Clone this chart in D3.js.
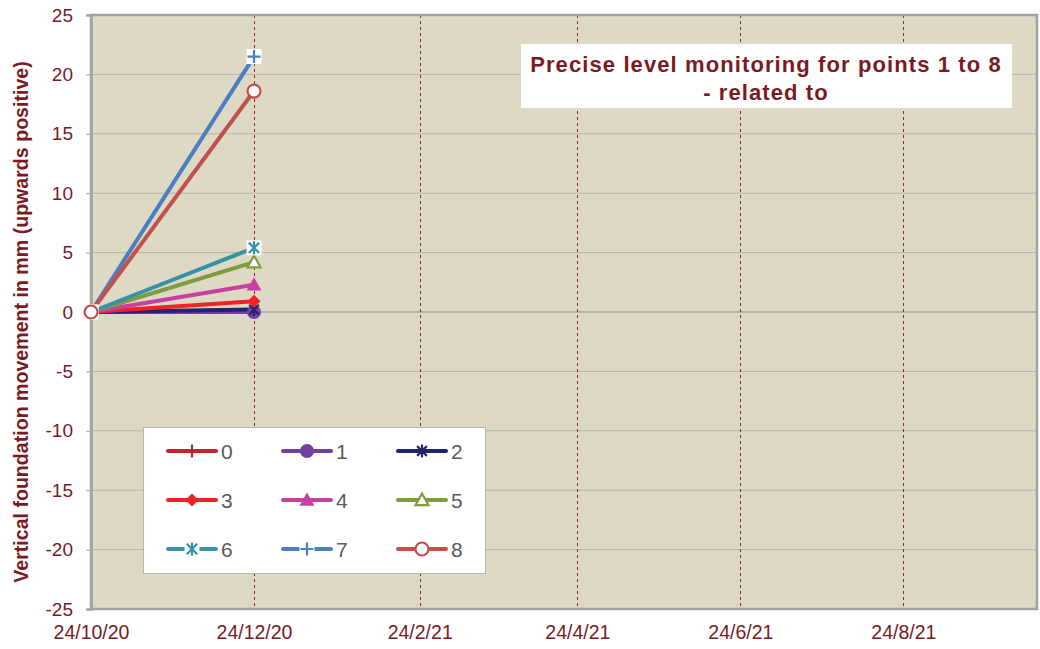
<!DOCTYPE html>
<html>
<head>
<meta charset="utf-8" />
<title>Precise level monitoring</title>
<script src="https://d3js.org/d3.v7.min.js"></script>
<style>
  body { margin: 0; background: #fff; }
  .tick text { font-family: "Liberation Sans", Arial, sans-serif; }
</style>
</head>
<body>
<svg id="chart" width="1040" height="649"></svg>
<script>
// data
var dates = ["2020-10-24", "2020-12-24"];
var seriesNames = ["0", "1", "2", "3", "4", "5", "6", "7", "8"];
var seriesValues = [
    [0, 0],
    [0, 0],
    [0, 0.2],
    [0, 0.9],
    [0, 2.3],
    [0, 4.2],
    [0, 5.4],
    [0, 21.5],
    [0, 18.6]
];
var xTickLabels = ["24/10/20", "24/12/20", "24/2/21", "24/4/21", "24/6/21", "24/8/21"];
var yTicks = [-25, -20, -15, -10, -5, 0, 5, 10, 15, 20, 25];

// look
var colors = ["#c3232b", "#7140a0", "#23236e", "#ef2323", "#c641a2", "#7f9c3f", "#3592aa", "#4b7fc2", "#c2504d"];
var markers = ["plus", "circle", "star", "diamond", "triangle", "triangleOpen", "asterisk", "plusBox", "circleOpen"];
var darkRed = "#7b1a1f";

var svg = d3.select("#chart"),
    margin = { top: 15, right: 3, bottom: 40, left: 91 },
    width = 1037 - margin.left,
    height = 609 - margin.top;

var parse = d3.timeParse("%Y-%m-%d");
var tickParse = d3.timeParse("%d/%m/%y");

var x = d3.scaleTime()
    .domain([parse("2020-10-24"), parse("2021-10-13")])
    .range([0, width]);
var y = d3.scaleLinear().domain([-25, 25]).range([height, 0]);

var g = svg.append("g").attr("transform", "translate(" + margin.left + "," + margin.top + ")");

// plot background
g.append("rect").attr("width", width).attr("height", height).attr("fill", "#ded9c4");

// horizontal grid
g.append("g").selectAll("line").data(yTicks).join("line")
    .attr("x1", 0).attr("x2", width)
    .attr("y1", function (d) { return y(d); }).attr("y2", function (d) { return y(d); })
    .attr("stroke", function (d) { return d === 0 ? "#8c8c8c" : "#b8b5a8"; })
    .attr("stroke-width", 1);

var xTickDates = xTickLabels.map(function (s) { return tickParse(s); });

// vertical dashed grid
g.append("g").selectAll("line").data(xTickDates.slice(1)).join("line")
    .attr("x1", function (d) { return Math.round(x(d)) + 0.5; }).attr("x2", function (d) { return Math.round(x(d)) + 0.5; })
    .attr("y1", 0).attr("y2", height)
    .attr("stroke", "#8a2a2a").attr("stroke-width", 1).attr("stroke-dasharray", "3,3");

// frame
g.append("rect").attr("x", 0).attr("y", 0).attr("width", width).attr("height", height)
    .attr("fill", "none").attr("stroke", "#a3a3a3").attr("stroke-width", 2.5);

// y axis
var yAxis = g.append("g")
    .call(d3.axisLeft(y).tickValues(yTicks).tickSize(5).tickPadding(13)
        .tickFormat(function (d) { return String(d); }));
yAxis.select(".domain").attr("stroke", "#a3a3a3").attr("stroke-width", 2.5);
yAxis.selectAll(".tick line").attr("stroke", "#a3a3a3");
yAxis.selectAll(".tick text").attr("fill", darkRed).attr("font-size", 19);

// x axis
var xAxis = g.append("g").attr("transform", "translate(0," + height + ")")
    .call(d3.axisBottom(x).tickValues(xTickDates).tickSize(0).tickPadding(16)
        .tickFormat(function (d, i) { return xTickLabels[i]; }));
xAxis.select(".domain").remove();
xAxis.selectAll(".tick text").attr("fill", darkRed).attr("font-size", 19.5);

// y axis title
svg.append("text")
    .attr("transform", "translate(28," + 322 + ") rotate(-90)")
    .attr("text-anchor", "middle")
    .attr("font-family", "Liberation Sans, Arial, sans-serif")
    .attr("font-weight", "bold").attr("font-size", 19.6)
    .attr("fill", darkRed)
    .text("Vertical foundation movement in mm (upwards positive)");

// marker drawing
function drawMarker(sel, type, color, size) {
    var s = size;
    if (type === "plus" || type === "plusBox" || type === "asterisk") {
        if (type !== "plus") {
            sel.append("rect").attr("x", -s - 1).attr("y", -s - 1).attr("width", 2 * s + 2).attr("height", 2 * s + 2).attr("fill", "#fff");
        }
        sel.append("path")
            .attr("d", "M" + (-s) + ",0H" + s + "M0," + (-s) + "V" + s)
            .attr("stroke", color).attr("stroke-width", 2.2).attr("fill", "none");
        if (type === "asterisk") {
            var k = s * 0.8;
            sel.append("path")
                .attr("d", "M" + (-k) + "," + (-k) + "L" + k + "," + k + "M" + (-k) + "," + k + "L" + k + "," + (-k))
                .attr("stroke", color).attr("stroke-width", 2.2).attr("fill", "none");
            sel.select("path").attr("d", "M0," + (-s) + "V" + s);
        }
    } else if (type === "star") {
        var k2 = s * 0.75;
        sel.append("path")
            .attr("d", "M0," + (-s) + "V" + s + "M" + (-k2) + "," + (-k2) + "L" + k2 + "," + k2 + "M" + (-k2) + "," + k2 + "L" + k2 + "," + (-k2))
            .attr("stroke", color).attr("stroke-width", 2.2).attr("fill", "none");
    } else if (type === "circle") {
        sel.append("circle").attr("r", s + 0.5).attr("fill", color);
    } else if (type === "circleOpen") {
        sel.append("circle").attr("r", s).attr("fill", "#fff").attr("stroke", color).attr("stroke-width", 2.2);
    } else if (type === "diamond") {
        sel.append("path").attr("d", "M0," + (-s) + "L" + s + ",0L0," + s + "L" + (-s) + ",0Z").attr("fill", color);
    } else if (type === "triangle") {
        sel.append("path").attr("d", "M0," + (-s - 1) + "L" + (s + 1) + "," + s * 0.9 + "L" + (-s - 1) + "," + s * 0.9 + "Z").attr("fill", color);
    } else if (type === "triangleOpen") {
        sel.append("path").attr("d", "M0," + (-s) + "L" + s + "," + (s * 0.8) + "L" + (-s) + "," + (s * 0.8) + "Z")
            .attr("fill", "#fff").attr("stroke", color).attr("stroke-width", 2.2);
    }
}

// series lines
var line = d3.line()
    .x(function (d) { return x(parse(d.date)); })
    .y(function (d) { return y(d.value); });

seriesValues.forEach(function (vals, i) {
    var pts = vals.map(function (v, j) { return { date: dates[j], value: v }; });
    g.append("path").datum(pts)
        .attr("d", line)
        .attr("fill", "none").attr("stroke", colors[i]).attr("stroke-width", 4);
});
seriesValues.forEach(function (vals, i) {
    vals.forEach(function (v, j) {
        var m = g.append("g").attr("transform", "translate(" + x(parse(dates[j])) + "," + y(v) + ")");
        drawMarker(m, markers[i], colors[i], 6.5);
    });
});

// title box
var tb = svg.append("g");
tb.append("rect").attr("x", 521).attr("y", 44).attr("width", 491).attr("height", 64).attr("fill", "#fff");
[["Precise level monitoring for points 1 to 8", 72], ["- related to", 100]].forEach(function (t) {
    tb.append("text").attr("x", 766).attr("y", t[1]).attr("text-anchor", "middle")
        .attr("font-family", "Liberation Sans, Arial, sans-serif").attr("font-weight", "bold")
        .attr("font-size", 22).attr("letter-spacing", 1.1).attr("fill", darkRed)
        .text(t[0]);
});

// legend
var lg = svg.append("g").attr("transform", "translate(143,427)");
lg.append("rect").attr("x", 0.5).attr("y", 0.5).attr("width", 342).attr("height", 146)
    .attr("fill", "#fff").attr("stroke", "#b5b5b5");
seriesNames.forEach(function (name, i) {
    var col = i % 3, row = Math.floor(i / 3);
    var ex = 25 + col * 115, ey = 24 + row * 49;
    var item = lg.append("g").attr("transform", "translate(" + ex + "," + ey + ")");
    item.append("line").attr("x1", 0).attr("x2", 48).attr("y1", 0).attr("y2", 0)
        .attr("stroke", colors[i]).attr("stroke-width", 4).attr("stroke-linecap", "round");
    var m = item.append("g").attr("transform", "translate(24,0)");
    drawMarker(m, markers[i], colors[i], 6.5);
    item.append("text").attr("x", 53).attr("y", 8)
        .attr("font-family", "Liberation Sans, Arial, sans-serif").attr("font-size", 21)
        .attr("fill", "#5a5a5a").text(name);
});
</script>
</body>
</html>
